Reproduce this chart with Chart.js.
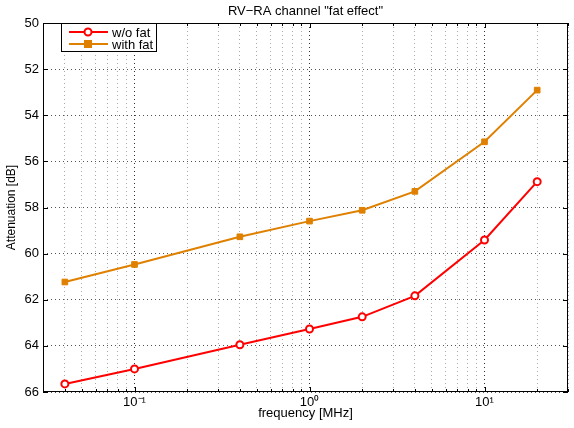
<!DOCTYPE html>
<html>
<head>
<meta charset="utf-8">
<script src="https://cdn.jsdelivr.net/npm/chart.js@4"></script>
<style>
  html, body { margin: 0; padding: 0; background: #fff; }
  #wrap { width: 574px; height: 428px; }
</style>
</head>
<body>
<div id="wrap"><canvas id="fatChart" width="574" height="428"></canvas></div>
<script>
// Frequencies [MHz]
const freqs = [0.04, 0.1, 0.4, 1, 2, 4, 10, 20];
// Attenuation [dB]
const withoutFat = [65.65, 65.0, 63.95, 63.27, 62.74, 61.83, 59.41, 56.88];
const withFat = [61.23, 60.47, 59.27, 58.59, 58.12, 57.30, 55.15, 52.91];
// Axis ticks
const xTickValues = [0.03, 0.04, 0.05, 0.06, 0.07, 0.08, 0.09,
  0.1, 0.2, 0.3, 0.4, 0.5, 0.6, 0.7, 0.8, 0.9,
  1, 2, 3, 4, 5, 6, 7, 8, 9,
  10, 20, 30];
const xTickLabels = { 0.1: '10\u207B\u00B9', 1: '10\u2070', 10: '10\u00B9' };
const chartTitle = 'RV\u2212RA channel "fat effect"';

const FONT = 'Helvetica, "Liberation Sans", Arial, sans-serif';

function isMajor(v) {
  return v === 0.1 || v === 1 || v === 10;
}

// Box round the plot, inner tick marks, title and legend (MATLAB style)
const framePlugin = {
  id: 'frame',
  afterDraw(chart) {
    const { ctx, chartArea: a, scales } = chart;
    ctx.save();
    ctx.strokeStyle = '#000';
    ctx.lineWidth = 1;
    ctx.strokeRect(a.left + 0.5, a.top + 0.5, a.right - a.left - 1, a.bottom - a.top - 1);

    ctx.beginPath();
    scales.y.ticks.forEach(t => {
      const y = Math.round(scales.y.getPixelForValue(t.value)) + 0.5;
      ctx.moveTo(a.left, y); ctx.lineTo(a.left + 5, y);
      ctx.moveTo(a.right, y); ctx.lineTo(a.right - 5, y);
    });
    scales.x.ticks.forEach(t => {
      const x = Math.round(scales.x.getPixelForValue(t.value)) + 0.5;
      const len = isMajor(t.value) ? 5 : 3;
      ctx.moveTo(x, a.bottom); ctx.lineTo(x, a.bottom - len);
      ctx.moveTo(x, a.top); ctx.lineTo(x, a.top + len);
    });
    ctx.stroke();

    // title, centred over the plot area
    ctx.fillStyle = '#000';
    ctx.font = '13px ' + FONT;
    ctx.textAlign = 'center';
    ctx.textBaseline = 'middle';
    ctx.fillText(chartTitle, (a.left + a.right) / 2, 11);

    // legend box
    const lx = a.left + 18, ly = a.top, lw = 96, lh = 29;
    ctx.fillStyle = '#fff';
    ctx.fillRect(lx, ly, lw, lh);
    ctx.strokeRect(lx + 0.5, ly + 0.5, lw - 1, lh - 1);
    ctx.textAlign = 'left';
    chart.data.datasets.forEach((ds, i) => {
      const y = ly + 9 + i * 12;
      ctx.strokeStyle = ds.borderColor;
      ctx.lineWidth = 2;
      ctx.beginPath();
      ctx.moveTo(lx + 8, y); ctx.lineTo(lx + 47, y);
      ctx.stroke();
      if (ds.pointStyle === 'rect') {
        ctx.fillStyle = ds.borderColor;
        ctx.fillRect(lx + 23, y - 4, 8, 8);
      } else {
        ctx.fillStyle = '#fff';
        ctx.beginPath();
        ctx.arc(lx + 27, y, 3.5, 0, Math.PI * 2);
        ctx.fill();
        ctx.stroke();
      }
      ctx.fillStyle = '#000';
      ctx.fillText(ds.label, lx + 51, y + 1);
    });
    ctx.restore();
  }
};

new Chart(document.getElementById('fatChart'), {
  type: 'line',
  data: {
    labels: freqs,
    datasets: [
      {
        label: 'w/o fat',
        data: freqs.map((f, i) => ({ x: f, y: withoutFat[i] })),
        borderColor: '#ff0000',
        backgroundColor: '#ffffff',
        borderWidth: 2,
        pointStyle: 'circle',
        pointRadius: 3.5,
        pointBorderWidth: 2,
        tension: 0
      },
      {
        label: 'with fat',
        data: freqs.map((f, i) => ({ x: f, y: withFat[i] })),
        borderColor: '#df8000',
        backgroundColor: '#df8000',
        borderWidth: 2,
        pointStyle: 'rect',
        pointRadius: 4,
        pointBorderWidth: 1,
        tension: 0
      }
    ]
  },
  options: {
    responsive: false,
    animation: false,
    layout: { padding: { top: 23, right: 1, left: 0, bottom: 0 } },
    plugins: {
      legend: { display: false },
      tooltip: { enabled: false },
      title: { display: false }
    },
    scales: {
      x: {
        type: 'logarithmic',
        min: 0.03,
        max: 30,
        afterBuildTicks(scale) {
          scale.ticks = xTickValues.map(v => ({ value: v }));
        },
        afterFit(scale) {
          scale.height = 36;
          scale.paddingLeft = 0;
          scale.paddingRight = 0;
        },
        ticks: {
          autoSkip: false,
          maxRotation: 0,
          padding: 3,
          color: '#000',
          font: { family: FONT, size: 13 },
          callback: v => xTickLabels[v] || ''
        },
        grid: {
          drawTicks: false,
          color: ctx => isMajor(ctx.tick && ctx.tick.value) ? '#333' : '#aaa'
        },
        border: { display: false, dash: [1, 3] },
        title: {
          display: true,
          text: 'frequency [MHz]',
          color: '#000',
          font: { family: FONT, size: 13 },
          padding: { top: 0, bottom: 7 }
        }
      },
      y: {
        reverse: true,
        min: 50,
        max: 66,
        afterFit(scale) {
          scale.width = 43;
          scale.paddingTop = 0;
          scale.paddingBottom = 0;
        },
        ticks: {
          stepSize: 2,
          padding: 4,
          color: '#000',
          font: { family: FONT, size: 13 }
        },
        grid: {
          drawTicks: false,
          color: '#555'
        },
        border: { display: false, dash: [1, 3] },
        title: {
          display: true,
          text: 'Attenuation [dB]',
          color: '#000',
          font: { family: FONT, size: 12 },
          padding: { top: 4, bottom: 0 }
        }
      }
    }
  },
  plugins: [framePlugin]
});
</script>
</body>
</html>
